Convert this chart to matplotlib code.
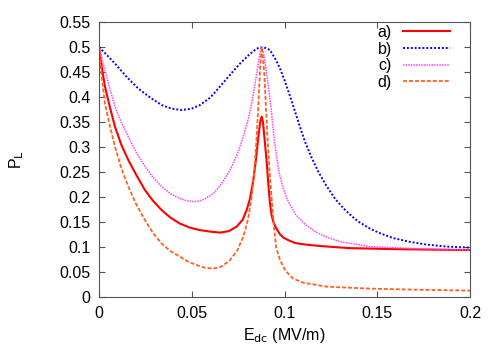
import numpy as np
import matplotlib
matplotlib.use('Agg')
import matplotlib.pyplot as plt
from matplotlib.ticker import FormatStrFormatter, MultipleLocator

plt.rcParams['font.family'] = ['Liberation Sans', 'DejaVu Sans']
plt.rcParams['font.size'] = 11.5

# curve a) - solid red
xa = [0, 0.0015, 0.0032, 0.006, 0.0086, 0.012, 0.0158, 0.020, 0.0248, 0.029,
      0.0338, 0.0385, 0.0437, 0.049, 0.0544, 0.060, 0.0652, 0.070, 0.0742, 0.0775,
      0.0796, 0.0814, 0.0832, 0.0846, 0.0859, 0.0870, 0.0877, 0.0884, 0.0892, 0.0904,
      0.0913, 0.0922, 0.0931, 0.0940, 0.0950, 0.0960, 0.0975, 0.0994, 0.1026, 0.106,
      0.1116, 0.120, 0.135, 0.160, 0.2]
pa = [0.5, 0.46, 0.421, 0.378, 0.341, 0.305, 0.274, 0.245, 0.214, 0.193,
      0.174, 0.159, 0.147, 0.139, 0.134, 0.131, 0.129, 0.132, 0.141, 0.155,
      0.174, 0.197, 0.234, 0.275, 0.321, 0.352, 0.361, 0.350, 0.318, 0.270,
      0.225, 0.187, 0.163, 0.150, 0.142, 0.135, 0.126, 0.119, 0.113, 0.108,
      0.105, 0.102, 0.098, 0.096, 0.094]

# curve b) - blue dotted
xb = [0, 0.004, 0.0086, 0.015, 0.0212, 0.028, 0.0338, 0.039, 0.0446, 0.050,
      0.0544, 0.060, 0.0652, 0.071, 0.076, 0.081, 0.085, 0.0886, 0.0922, 0.0954,
      0.0978, 0.1003, 0.1026, 0.1057, 0.1083, 0.111, 0.1145, 0.1182, 0.1227, 0.1272,
      0.1317, 0.1365, 0.1398, 0.1461, 0.152, 0.1587, 0.167, 0.1767, 0.188, 0.2]
pb = [0.5, 0.485, 0.467, 0.44, 0.417, 0.398, 0.384, 0.377, 0.374, 0.377,
      0.384, 0.399, 0.421, 0.446, 0.467, 0.485, 0.497, 0.5, 0.494, 0.474,
      0.455, 0.431, 0.406, 0.371, 0.341, 0.311, 0.28, 0.251, 0.222, 0.197,
      0.178, 0.161, 0.151, 0.137, 0.127, 0.118, 0.111, 0.105, 0.101, 0.099]

# curve c) - magenta fine dots
xc = [0, 0.0015, 0.0032, 0.006, 0.0086, 0.012, 0.0158, 0.020, 0.0248, 0.029,
      0.0338, 0.0385, 0.0437, 0.048, 0.0527, 0.057, 0.0616, 0.066, 0.0706, 0.0745,
      0.0778, 0.0803, 0.0823, 0.0842, 0.0859, 0.0868, 0.0877, 0.0886, 0.0895, 0.0904,
      0.0915, 0.0927, 0.0936, 0.0945, 0.0958, 0.0972, 0.0993, 0.1017, 0.106, 0.1116,
      0.117, 0.1227, 0.130, 0.1461, 0.170, 0.2]
pc = [0.5, 0.478, 0.454, 0.415, 0.381, 0.35, 0.321, 0.29, 0.261, 0.24,
      0.221, 0.207, 0.197, 0.192, 0.191, 0.196, 0.207, 0.226, 0.254, 0.285,
      0.321, 0.354, 0.387, 0.428, 0.467, 0.488, 0.5, 0.49, 0.47, 0.447,
      0.415, 0.381, 0.347, 0.314, 0.28, 0.247, 0.217, 0.194, 0.165, 0.144,
      0.13, 0.12, 0.111, 0.101, 0.097, 0.094]

# curve d) - orange dashed
xd = [0, 0.0015, 0.0032, 0.006, 0.0086, 0.012, 0.0158, 0.020, 0.0248, 0.029,
      0.0338, 0.0385, 0.0437, 0.048, 0.0527, 0.057, 0.0616, 0.066, 0.0706, 0.0745,
      0.0778, 0.0803, 0.0823, 0.0838, 0.0850, 0.0860, 0.0868, 0.0877, 0.0884, 0.0891,
      0.0900, 0.0909, 0.0918, 0.0927, 0.0940, 0.0954, 0.0976, 0.1005, 0.1047, 0.110,
      0.1227, 0.1461, 0.170, 0.2]
pd_ = [0.5, 0.44, 0.387, 0.34, 0.301, 0.258, 0.221, 0.186, 0.154, 0.129,
       0.107, 0.092, 0.081, 0.071, 0.064, 0.059, 0.057, 0.061, 0.074, 0.093,
       0.121, 0.155, 0.201, 0.255, 0.321, 0.39, 0.454, 0.5, 0.478, 0.447,
       0.38, 0.314, 0.26, 0.214, 0.155, 0.101, 0.074, 0.053, 0.037, 0.029,
       0.021, 0.017, 0.015, 0.013]

labels = ['a)', 'b)', 'c)', 'd)']

fig = plt.figure(figsize=(5, 3.5), dpi=100)
ax = fig.add_axes([0.198, 0.151, 0.742, 0.786])

ax.plot(xa, pa, color='#ff0000', lw=1.5, label=labels[0])
ax.plot(xb, pb, color='#0000ff', lw=1.4, dashes=(1, 1), label=labels[1])
ax.plot(xc, pc, color='#ff44ff', lw=1.1, dashes=(1, 0.7), label=labels[2])
ax.plot(xd, pd_, color='#ff6020', lw=1.3, dashes=(2.2, 1.1), label=labels[3])

ax.set_xlim(0, 0.2)
ax.set_ylim(0, 0.55)
ax.xaxis.set_major_locator(MultipleLocator(0.05))
ax.yaxis.set_major_locator(MultipleLocator(0.05))
ax.xaxis.set_major_formatter(FormatStrFormatter('%g'))
ax.yaxis.set_major_formatter(FormatStrFormatter('%g'))
ax.tick_params(direction='in', top=True, right=True, length=4, color='#555555')
ax.tick_params(axis='x', pad=6.5)
ax.tick_params(axis='y', pad=6)
for s in ax.spines.values():
    s.set_color('#555555')

ax.set_xlabel('E$_{\\rm dc}$ (MV/m)')
ax.set_ylabel('P$_{\\rm L}$', va='center')
ax.xaxis.set_label_coords(0.5, -0.105)
ax.yaxis.set_label_coords(-0.221, 0.5)

ax.legend(loc='upper right', bbox_to_anchor=(0.946, 0.989), frameon=False,
          markerfirst=False, handlelength=2.94, handletextpad=0.7,
          labelspacing=0.1, borderaxespad=0, borderpad=0)

fig.savefig('out.png', dpi=100)
